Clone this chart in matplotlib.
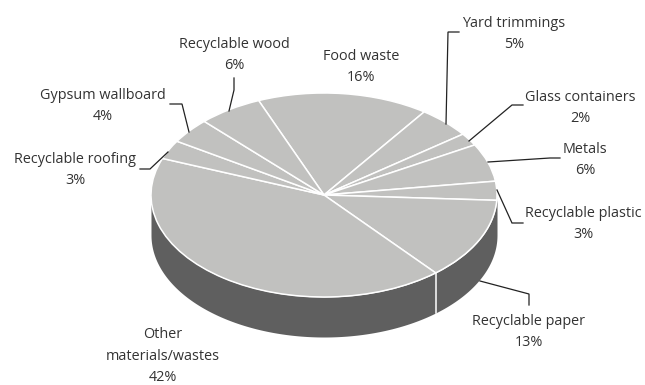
import numpy as np
import matplotlib
matplotlib.use('Agg')
import matplotlib.pyplot as plt

names = ['Food waste', 'Yard trimmings', 'Glass containers', 'Metals', 'Recyclable plastic',
         'Recyclable paper', 'Other\nmaterials/wastes', 'Recyclable roofing', 'Gypsum wallboard', 'Recyclable wood']
shares = [16, 5, 2, 6, 3, 13, 42, 3, 4, 6]

# label centres in pixels, same order as names
label_x = [361, 514, 580, 585, 583, 529, 163, 75, 103, 234]
label_y = [67, 34, 108, 160, 224, 332, 356, 170, 106, 55]

# leader lines in pixels
leader_lines = [
    None,
    [(446, 124), (448, 32), (459, 32)],
    [(469, 141), (512, 105), (523, 105)],
    [(488, 162), (550, 158), (560, 158)],
    [(497, 190), (512, 223), (523, 223)],
    [(480, 281), (529, 294), (529, 305)],
    None,
    [(168, 152), (150, 169), (140, 169)],
    [(189, 132), (182, 104), (170, 104)],
    [(229, 111), (234, 90), (234, 78)],
]

W, H = 645, 385
cx, cy = 324, 195
rx, ry = 173, 102
depth = 40 / ry
start = 112.2

plt.rcParams['font.family'] = ['Open Sans', 'DejaVu Sans']

fig = plt.figure(figsize=(W / 100, H / 100), dpi=100)
ax = fig.add_axes([0, 0, 1, 1])

# rim under the top face
t = np.linspace(np.pi, 2 * np.pi, 200)
ax.fill_between(np.cos(t), np.sin(t), np.sin(t) - depth, color='#5f5f5f', lw=0)

ax.pie(shares, startangle=start, counterclock=False, radius=1,
       colors=['#c1c1bf'] * len(shares),
       wedgeprops={'edgecolor': 'white', 'linewidth': 1.1})

# white seam on the rim, between paper and other
a = np.deg2rad(start - 360 * sum(shares[:6]) / sum(shares))
ax.plot([np.cos(a), np.cos(a)], [np.sin(a), np.sin(a) - depth], color='white', lw=1.1)

ax.set_aspect('auto')
ax.set_xlim(-cx / rx, (W - cx) / rx)
ax.set_ylim((cy - H) / ry, cy / ry)
ax.axis('off')

# overlay in pixel coordinates for labels
ov = fig.add_axes([0, 0, 1, 1])
ov.set_xlim(0, W)
ov.set_ylim(H, 0)
ov.axis('off')
ov.patch.set_alpha(0)

for i in range(len(names)):
    ov.text(label_x[i], label_y[i], f'{names[i]}\n{shares[i]}%', ha='center', va='center',
            fontsize=10.4, color='#333333', linespacing=1.57)
    if leader_lines[i] is not None:
        xs, ys = zip(*leader_lines[i])
        ov.plot(xs, ys, color='#222222', lw=0.9, solid_joinstyle='miter')

fig.savefig('out.png', dpi=100)
